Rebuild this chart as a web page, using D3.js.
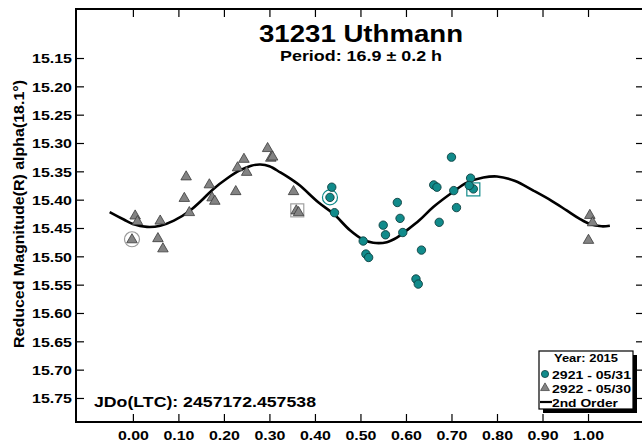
<!DOCTYPE html>
<html><head><meta charset="utf-8">
<script src="https://cdn.jsdelivr.net/npm/d3@7/dist/d3.min.js"></script>
<style>html,body{margin:0;padding:0;background:#fff;}svg{display:block;}</style>
</head><body>
<svg id="c" width="642" height="442"></svg>
<script>
// ---- data ----
const xTicks = [0,0.1,0.2,0.3,0.4,0.5,0.6,0.7,0.8,0.9,1.0];
const yTicks = [15.15,15.20,15.25,15.30,15.35,15.40,15.45,15.50,15.55,15.60,15.65,15.70,15.75];
// session 2921 - 05/31 (circles)
const circPhase = [0.437,0.433,0.443,0.506,0.512,0.518,0.550,0.555,0.581,0.587,0.593,0.634,0.622,0.627,0.661,0.668,0.673,0.700,0.705,0.711,0.742,0.748,0.739];
const circMag   = [15.378,15.396,15.423,15.473,15.496,15.502,15.445,15.462,15.405,15.433,15.458,15.489,15.540,15.549,15.374,15.378,15.440,15.325,15.384,15.414,15.362,15.381,15.375];
// session 2922 - 05/30 (triangles)
const triPhase = [0.005,0.010,-0.002,0.060,0.055,0.066,0.117,0.113,0.124,0.168,0.174,0.180,0.226,0.230,0.244,0.250,0.296,0.303,0.307,0.353,0.359,0.364,1.004,1.010,1.001];
const triMag   = [15.427,15.437,15.469,15.436,15.467,15.485,15.358,15.396,15.421,15.372,15.395,15.401,15.384,15.342,15.327,15.350,15.308,15.325,15.323,15.384,15.418,15.421,15.426,15.439,15.470];
// 2nd order fit curve
const fitPhase = [-0.051,-0.02,0.00,0.031,0.06,0.09,0.126,0.15,0.177,0.206,0.236,0.26,0.28,0.30,0.324,0.35,0.367,0.408,0.441,0.477,0.505,0.528,0.558,0.58,0.602,0.63,0.66,0.704,0.734,0.77,0.80,0.84,0.88,0.92,0.953,0.98,1.004,1.03,1.048];
const fitMag   = [15.422,15.435,15.443,15.448,15.446,15.437,15.419,15.402,15.381,15.363,15.348,15.340,15.338,15.341,15.352,15.365,15.375,15.405,15.425,15.454,15.470,15.476,15.475,15.467,15.454,15.436,15.413,15.386,15.370,15.361,15.359,15.367,15.384,15.402,15.419,15.433,15.443,15.447,15.446];
// highlighted points: circled (first point) and boxed (reference)
const circledTri = {phase:-0.002, mag:15.469};
const circledCirc = {phase:0.433, mag:15.396};
const boxedTri = {phase:0.359, mag:15.418};
const boxedCirc = {phase:0.748, mag:15.381};

const title = "31231 Uthmann";
const subtitle = "Period: 16.9 \u00b1 0.2 h";
const yLabel = "Reduced Magnitude(R) alpha(18.1\u00b0)";
const jdText = "JDo(LTC): 2457172.457538";
const legendTitle = "Year: 2015";
const legendNames = ["2921 - 05/31","2922 - 05/30","2nd Order"];

// ---- drawing ----
const TEAL = "#118b8b", TEAL_S = "#0d3f3f", GRAY = "#838383", GRAY_S = "#3a3a3a";
const FONT = "'Liberation Sans', Arial, sans-serif";
const L = 76, R = 644, T = 9, B = 422;
const svg = d3.select("#c");
const x = d3.scaleLinear().domain([-0.125, 1.123]).range([L, R]);
const y = d3.scaleLinear().domain([15.0635, 15.7924]).range([T, B]);

function stretch(sel, w){ sel.attr("textLength", w).attr("lengthAdjust","spacingAndGlyphs"); }

// axes
const gB = svg.append("g").attr("transform",`translate(0,${B})`)
  .call(d3.axisBottom(x).tickValues(xTicks).tickSizeInner(-8).tickSizeOuter(0).tickPadding(9).tickFormat(d3.format(".2f")));
const gT = svg.append("g").attr("transform",`translate(0,${T})`)
  .call(d3.axisTop(x).tickValues(xTicks).tickSizeInner(-8).tickSizeOuter(0).tickFormat(""));
const gL = svg.append("g").attr("transform",`translate(${L},0)`)
  .call(d3.axisLeft(y).tickValues(yTicks).tickSizeInner(-8).tickSizeOuter(0).tickPadding(4).tickFormat(d3.format(".2f")));
const gR = svg.append("g").attr("transform",`translate(${R},0)`)
  .call(d3.axisRight(y).tickValues(yTicks).tickSizeInner(-8).tickSizeOuter(0).tickFormat(""));
[gB,gT,gL,gR].forEach(g=>{ g.select(".domain").remove(); g.selectAll(".tick line").attr("stroke","#000").attr("stroke-width",1.2); });
gB.selectAll(".tick text").attr("font-family",FONT).attr("font-weight","bold").attr("font-size",13).attr("fill","#000").each(function(){ stretch(d3.select(this),31); });
gL.selectAll(".tick text").attr("font-family",FONT).attr("font-weight","bold").attr("font-size",13).attr("fill","#000").attr("dy","0.36em").each(function(){ stretch(d3.select(this),40); });

// frame
svg.append("rect").attr("x",L).attr("y",T).attr("width",R-L).attr("height",B-T)
  .attr("fill","none").attr("stroke","#000").attr("stroke-width",2);

// fit curve
const fit = fitPhase.map((p,i)=>[p,fitMag[i]]);
svg.append("path").datum(fit)
  .attr("d", d3.line().x(d=>x(d[0])).y(d=>y(d[1])).curve(d3.curveCatmullRom.alpha(0.5)))
  .attr("fill","none").attr("stroke","#000").attr("stroke-width",2.6);

// highlight rings/boxes
svg.append("circle").attr("cx",x(circledTri.phase)).attr("cy",y(circledTri.mag)+0.5).attr("r",7.5)
  .attr("fill","none").attr("stroke","#9a9a9a").attr("stroke-width",1.2);
svg.append("circle").attr("cx",x(circledCirc.phase)).attr("cy",y(circledCirc.mag)).attr("r",7.5)
  .attr("fill","none").attr("stroke",TEAL).attr("stroke-width",1.2);
svg.append("rect").attr("x",x(boxedTri.phase)-5.5).attr("y",y(boxedTri.mag)-6).attr("width",13).attr("height",13)
  .attr("fill","none").attr("stroke","#a0a0a0").attr("stroke-width",1.2);
svg.append("rect").attr("x",x(boxedCirc.phase)-6.5).attr("y",y(boxedCirc.mag)-6).attr("width",13).attr("height",13)
  .attr("fill","none").attr("stroke",TEAL).attr("stroke-width",1.2);

// triangles
const tri = d3.symbol().type(d3.symbolTriangle).size(48);
svg.append("g").selectAll("path").data(triPhase.map((p,i)=>[p,triMag[i]])).join("path")
  .attr("d",tri).attr("transform",d=>`translate(${x(d[0])},${y(d[1])+1})`)
  .attr("fill",GRAY).attr("stroke",GRAY_S).attr("stroke-width",0.8);
// circles
svg.append("g").selectAll("circle").data(circPhase.map((p,i)=>[p,circMag[i]])).join("circle")
  .attr("cx",d=>x(d[0])).attr("cy",d=>y(d[1])).attr("r",4.2)
  .attr("fill",TEAL).attr("stroke",TEAL_S).attr("stroke-width",0.9);

// titles
svg.append("text").attr("x",361).attr("y",42).attr("text-anchor","middle")
  .attr("font-family",FONT).attr("font-weight","bold").attr("font-size",23).text(title).call(stretch,204);
svg.append("text").attr("x",361).attr("y",61).attr("text-anchor","middle")
  .attr("font-family",FONT).attr("font-weight","bold").attr("font-size",15).text(subtitle).call(stretch,162);
svg.append("text").attr("transform","translate(23.5,214) rotate(-90)").attr("text-anchor","middle")
  .attr("font-family",FONT).attr("font-weight","bold").attr("font-size",14).text(yLabel).call(stretch,268);
svg.append("text").attr("x",94).attr("y",407)
  .attr("font-family",FONT).attr("font-weight","bold").attr("font-size",15).text(jdText).call(stretch,222);

// legend
const lg = svg.append("g");
lg.append("rect").attr("x",543).attr("y",355).attr("width",94).attr("height",58).attr("fill","#000");
lg.append("rect").attr("x",539).attr("y",351).attr("width",94).attr("height",58).attr("fill","#fff").attr("stroke","#000").attr("stroke-width",1.2);
lg.append("text").attr("x",586).attr("y",361.5).attr("text-anchor","middle")
  .attr("font-family",FONT).attr("font-weight","bold").attr("font-size",11.5).text(legendTitle).call(stretch,64);
const rows = [374,388,402];
lg.append("circle").attr("cx",545).attr("cy",rows[0]).attr("r",3.6).attr("fill",TEAL).attr("stroke",TEAL_S).attr("stroke-width",0.8);
lg.append("path").attr("d",d3.symbol().type(d3.symbolTriangle).size(34)).attr("transform",`translate(545,${rows[1]})`)
  .attr("fill",GRAY).attr("stroke",GRAY_S).attr("stroke-width",0.7);
lg.append("line").attr("x1",540).attr("x2",552).attr("y1",rows[2]).attr("y2",rows[2]).attr("stroke","#000").attr("stroke-width",2.2);
legendNames.forEach((n,i)=>{
  lg.append("text").attr("x",552).attr("y",rows[i]+4.5)
    .attr("font-family",FONT).attr("font-weight","bold").attr("font-size",11.5).text(n).call(stretch, i<2?79:66);
});
</script>
</body></html>
